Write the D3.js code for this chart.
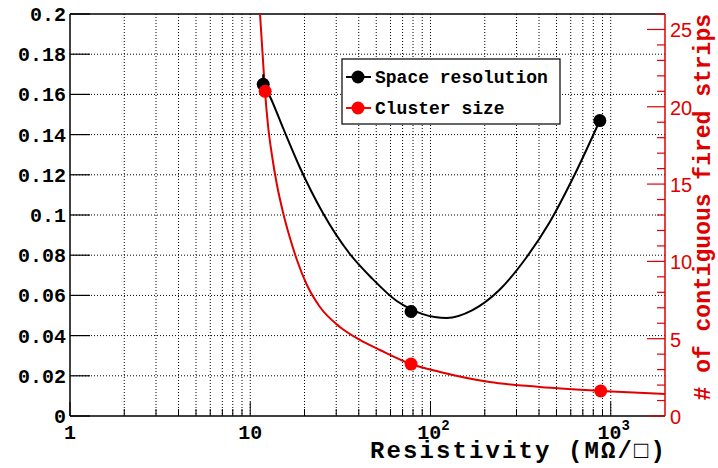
<!DOCTYPE html>
<html>
<head>
<meta charset="utf-8">
<script src="https://cdn.jsdelivr.net/npm/d3@7"></script>
<style>
  body { margin: 0; background: #fff; }
  svg { display: block; }
  .mono { font-family: "Liberation Mono", "DejaVu Sans Mono", monospace; font-weight: bold; }
</style>
</head>
<body>
<svg width="718" height="468"></svg>
<script>
// measured points
var resX = [11.8, 78, 870],
    resY = [0.165, 0.052, 0.147],
    resXErr = [0.7, 3, 25],
    resYErr = [0.005, 0.002, 0.002];

var clusX = [12.1, 78, 880],
    clusY = [21.0, 3.36, 1.62];

// fitted curves
var resFitX = [11.7, 12.9, 15.2, 18.8, 25.3, 35.7, 47.7, 65, 77.7, 90.6, 123, 171, 241, 342, 459, 630, 870],
    resFitY = [0.166, 0.1587, 0.1433, 0.1239, 0.101, 0.0806, 0.0682, 0.0572, 0.0532, 0.0507, 0.0488, 0.0527, 0.0627, 0.0791, 0.0965, 0.12, 0.147];

var clusFitX = [11.3, 11.69, 12.06, 12.54, 13.19, 14.07, 15.18, 16.61, 18.16, 20.63, 24.36, 31.45, 40.6, 52.4, 77.9, 113, 213, 404, 881, 2000],
    clusFitY = [26.2, 23.54, 21.09, 18.82, 16.88, 14.94, 13.2, 11.51, 10.09, 8.47, 7.05, 5.76, 4.92, 4.27, 3.36, 2.85, 2.2, 1.88, 1.62, 1.42];

var leftTicks = [0, 0.02, 0.04, 0.06, 0.08, 0.1, 0.12, 0.14, 0.16, 0.18, 0.2],
    leftLabels = ["0", "0.02", "0.04", "0.06", "0.08", "0.1", "0.12", "0.14", "0.16", "0.18", "0.2"],
    rightTicks = [0, 5, 10, 15, 20, 25],
    xDecades = [1, 10, 100, 1000],
    xDecadeExp = ["", "", "2", "3"];

var svg = d3.select("svg"),
    pL = 70, pR = 665, pT = 14, pB = 416;

var x = d3.scaleLog().domain([1, 2000]).range([pL, pR]),
    yL = d3.scaleLinear().domain([0, 0.2]).range([pB, pT]),
    yR = d3.scaleLinear().domain([0, 26]).range([pB, pT]);

svg.append("defs").append("clipPath").attr("id", "plot")
    .append("rect").attr("x", pL).attr("y", pT)
    .attr("width", pR - pL).attr("height", pB - pT);

// grid
var minorX = [];
for (var d = 1; d <= 1000; d *= 10) {
    for (var k = 2; k <= 9; k++) minorX.push(d * k);
}
minorX = minorX.filter(function(v) { return v < 2000; });
var gridX = minorX.concat([10, 100, 1000]);

svg.append("g").selectAll("line").data(gridX).enter().append("line")
    .attr("x1", function(v) { return x(v); })
    .attr("x2", function(v) { return x(v); })
    .attr("y1", pT).attr("y2", pB)
    .attr("stroke", "#000").attr("stroke-width", 1)
    .attr("stroke-dasharray", "1,2");

svg.append("g").selectAll("line").data(leftTicks.slice(1, -1)).enter().append("line")
    .attr("x1", pL).attr("x2", pR)
    .attr("y1", function(v) { return yL(v); })
    .attr("y2", function(v) { return yL(v); })
    .attr("stroke", "#000").attr("stroke-width", 1)
    .attr("stroke-dasharray", "1,2");

// frame / axes
svg.append("line").attr("x1", pL).attr("x2", pR).attr("y1", pT).attr("y2", pT)
    .attr("stroke", "#000").attr("stroke-width", 1.5);
svg.append("line").attr("x1", pL).attr("x2", pR).attr("y1", pB).attr("y2", pB)
    .attr("stroke", "#000").attr("stroke-width", 1.5);
svg.append("line").attr("x1", pL).attr("x2", pL).attr("y1", pT).attr("y2", pB)
    .attr("stroke", "#000").attr("stroke-width", 1.5);

// left ticks and labels
var gl = svg.append("g");
gl.selectAll("line").data(leftTicks).enter().append("line")
    .attr("x1", pL).attr("x2", pL + 20)
    .attr("y1", function(v) { return yL(v); })
    .attr("y2", function(v) { return yL(v); })
    .attr("stroke", "#000").attr("stroke-width", 1.2);
gl.selectAll("text").data(leftTicks).enter().append("text")
    .attr("class", "mono")
    .attr("x", 66)
    .attr("y", function(v) { return yL(v) + 7; })
    .attr("text-anchor", "end")
    .attr("font-size", 20)
    .text(function(v, i) { return leftLabels[i]; });

// bottom ticks
var gb = svg.append("g");
gb.selectAll("line.minor").data(minorX).enter().append("line")
    .attr("x1", function(v) { return x(v); })
    .attr("x2", function(v) { return x(v); })
    .attr("y1", pB).attr("y2", pB - 7)
    .attr("stroke", "#000");
gb.selectAll("line.major").data(xDecades).enter().append("line")
    .attr("x1", function(v) { return x(v); })
    .attr("x2", function(v) { return x(v); })
    .attr("y1", pB).attr("y2", pB - 14)
    .attr("stroke", "#000");
var xl = gb.selectAll("text").data(xDecades).enter().append("text")
    .attr("class", "mono")
    .attr("x", function(v, i) { return x(v) + (i >= 2 ? 3 : 0); })
    .attr("y", 439)
    .attr("text-anchor", "middle")
    .attr("font-size", 20);
xl.append("tspan").text(function(v, i) { return i === 0 ? "1" : "10"; });
xl.append("tspan").attr("dy", -9).attr("font-size", 14)
    .text(function(v, i) { return xDecadeExp[i]; });

svg.append("text").attr("class", "mono")
    .attr("x", pR + 2).attr("y", 458)
    .attr("text-anchor", "end")
    .attr("font-size", 24)
    .attr("letter-spacing", 2.1)
    .text("Resistivity (M\u03A9/\u25A1)");

// right axis (red)
var red = "#e00000";
var gr = svg.append("g");
gr.append("line").attr("x1", pR).attr("x2", pR).attr("y1", pT).attr("y2", pB)
    .attr("stroke", red).attr("stroke-width", 1.5);
gr.selectAll("line.minor").data(d3.range(0, 27)).enter().append("line")
    .attr("x1", function(v) { return v % 5 === 0 ? pR - 18 : pR - 8; })
    .attr("x2", pR)
    .attr("y1", function(v) { return yR(v); })
    .attr("y2", function(v) { return yR(v); })
    .attr("stroke", red).attr("stroke-width", 1.2);
gr.selectAll("text").data(rightTicks).enter().append("text")
    .attr("x", 670)
    .attr("y", function(v) { return yR(v) + 8; })
    .attr("font-family", "Liberation Sans, Arial, sans-serif")
    .attr("font-size", 20)
    .attr("fill", red)
    .text(function(v) { return v; });
svg.append("text").attr("class", "mono")
    .attr("transform", "translate(710," + pT + ") rotate(-90)")
    .attr("text-anchor", "end")
    .attr("font-size", 23)
    .attr("fill", red)
    .text("# of contiguous fired strips");

// curves
var lineL = d3.line()
    .x(function(d) { return x(d[0]); })
    .y(function(d) { return yL(d[1]); })
    .curve(d3.curveMonotoneX);
var lineR = d3.line()
    .x(function(d) { return x(d[0]); })
    .y(function(d) { return yR(d[1]); })
    .curve(d3.curveMonotoneX);

var plot = svg.append("g").attr("clip-path", "url(#plot)");
plot.append("path")
    .datum(clusFitX.map(function(v, i) { return [v, clusFitY[i]]; }))
    .attr("fill", "none").attr("stroke", red).attr("stroke-width", 2)
    .attr("d", lineR);
plot.append("path")
    .datum(resFitX.map(function(v, i) { return [v, resFitY[i]]; }))
    .attr("fill", "none").attr("stroke", "#000").attr("stroke-width", 2)
    .attr("d", lineL);

// points with error bars
var gp = svg.append("g");
resX.forEach(function(v, i) {
    var cx = x(v), cy = yL(resY[i]);
    gp.append("line").attr("x1", x(v - resXErr[i])).attr("x2", x(v + resXErr[i]))
        .attr("y1", cy).attr("y2", cy).attr("stroke", "#000").attr("stroke-width", 2);
    gp.append("line").attr("x1", cx).attr("x2", cx)
        .attr("y1", yL(resY[i] - resYErr[i])).attr("y2", yL(resY[i] + resYErr[i]))
        .attr("stroke", "#000").attr("stroke-width", 2);
});
gp.selectAll("circle.res").data(resX).enter().append("circle")
    .attr("cx", function(v) { return x(v); })
    .attr("cy", function(v, i) { return yL(resY[i]); })
    .attr("r", 6.5).attr("fill", "#000");
gp.selectAll("circle.clus").data(clusX).enter().append("circle")
    .attr("cx", function(v) { return x(v); })
    .attr("cy", function(v, i) { return yR(clusY[i]); })
    .attr("r", 6.5).attr("fill", "#ff0000");

// legend
var lg = svg.append("g");
lg.append("rect").attr("x", 342).attr("y", 59).attr("width", 218).attr("height", 65)
    .attr("fill", "#fff").attr("stroke", "#000").attr("stroke-width", 1.2);
var legItems = [["Space resolution", "#000", 77], ["Cluster size", "#ff0000", 108]];
legItems.forEach(function(it) {
    lg.append("line").attr("x1", 346).attr("x2", 371).attr("y1", it[2]).attr("y2", it[2])
        .attr("stroke", it[1]).attr("stroke-width", 2);
    lg.append("circle").attr("cx", 358).attr("cy", it[2]).attr("r", 6.5).attr("fill", it[1]);
    lg.append("text").attr("class", "mono")
        .attr("x", 375).attr("y", it[2] + 6)
        .attr("font-size", 18)
        .text(it[0]);
});
</script>
</body>
</html>
